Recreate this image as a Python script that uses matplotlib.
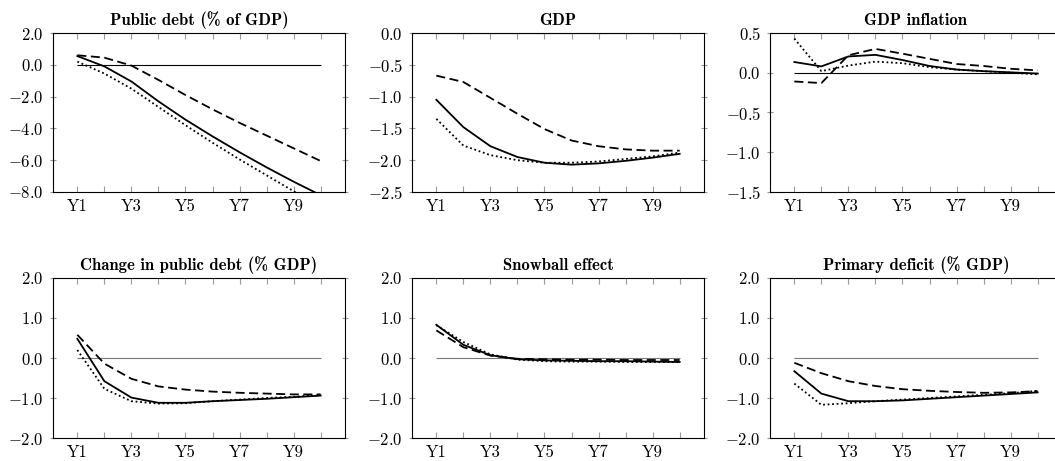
import matplotlib
matplotlib.use("Agg")
import matplotlib.pyplot as plt
import numpy as np
from matplotlib.ticker import FormatStrFormatter

plt.rcParams['font.family'] = 'cmr10'
plt.rcParams['mathtext.fontset'] = 'cm'
plt.rcParams['axes.unicode_minus'] = False

years = ["Y1", "Y2", "Y3", "Y4", "Y5", "Y6", "Y7", "Y8", "Y9", "Y10"]

titles = ["Public debt (% of GDP)", "GDP", "GDP inflation",
          "Change in public debt (% GDP)", "Snowball effect", "Primary deficit (% GDP)"]

# three scenarios per panel: solid, dashed, dotted
debt_solid = [0.55, -0.1, -1.05, -2.3, -3.45, -4.5, -5.5, -6.45, -7.35, -8.2]
debt_dashed = [0.6, 0.45, -0.05, -0.95, -1.9, -2.8, -3.65, -4.45, -5.25, -6.05]
debt_dotted = [0.2, -0.55, -1.5, -2.65, -3.8, -4.9, -5.95, -6.95, -7.95, -8.9]

gdp_solid = [-1.05, -1.48, -1.78, -1.95, -2.04, -2.07, -2.05, -2.01, -1.96, -1.9]
gdp_dashed = [-0.67, -0.77, -1.02, -1.27, -1.51, -1.69, -1.78, -1.83, -1.85, -1.85]
gdp_dotted = [-1.35, -1.77, -1.92, -2.0, -2.04, -2.04, -2.02, -1.98, -1.94, -1.88]

infl_solid = [0.135, 0.08, 0.205, 0.225, 0.16, 0.085, 0.04, 0.02, 0.005, -0.01]
infl_dashed = [-0.11, -0.13, 0.22, 0.3, 0.24, 0.175, 0.11, 0.085, 0.05, 0.03]
infl_dotted = [0.43, 0.02, 0.09, 0.14, 0.12, 0.07, 0.04, 0.02, 0.0, -0.02]

chg_solid = [0.48, -0.58, -0.99, -1.12, -1.12, -1.08, -1.05, -1.02, -0.98, -0.94]
chg_dashed = [0.58, -0.14, -0.52, -0.71, -0.79, -0.84, -0.87, -0.89, -0.91, -0.91]
chg_dotted = [0.2, -0.77, -1.08, -1.14, -1.13, -1.08, -1.04, -1.0, -0.97, -0.93]

snow_solid = [0.83, 0.33, 0.07, -0.03, -0.06, -0.07, -0.08, -0.08, -0.09, -0.1]
snow_dashed = [0.69, 0.27, 0.06, -0.02, -0.03, -0.04, -0.04, -0.05, -0.05, -0.05]
snow_dotted = [0.82, 0.4, 0.09, -0.04, -0.08, -0.09, -0.09, -0.1, -0.1, -0.1]

prim_solid = [-0.33, -0.89, -1.08, -1.08, -1.06, -1.02, -0.98, -0.94, -0.9, -0.86]
prim_dashed = [-0.12, -0.38, -0.58, -0.7, -0.78, -0.82, -0.85, -0.87, -0.86, -0.83]
prim_dotted = [-0.64, -1.17, -1.13, -1.08, -1.04, -1.0, -0.96, -0.92, -0.88, -0.82]

ylims = [(-8, 2), (-2.5, 0), (-1.5, 0.5), (-2, 2), (-2, 2), (-2, 2)]
ysteps = [2.0, 0.5, 0.5, 1.0, 1.0, 1.0]

series = [
    (debt_solid, debt_dashed, debt_dotted),
    (gdp_solid, gdp_dashed, gdp_dotted),
    (infl_solid, infl_dashed, infl_dotted),
    (chg_solid, chg_dashed, chg_dotted),
    (snow_solid, snow_dashed, snow_dotted),
    (prim_solid, prim_dashed, prim_dotted),
]

W, H = 1055, 461
fig = plt.figure(figsize=(W / 100, H / 100), dpi=100)

lefts = [53, 412, 770]
tops = [33, 278]
heights = [159, 160]
width = 292

x = np.arange(1, len(years) + 1)

for i, (title, (s, d, o)) in enumerate(zip(titles, series)):
    row, col = divmod(i, 3)
    l, t, h = lefts[col], tops[row], heights[row]
    ax = fig.add_axes([l / W, 1 - (t + h) / H, width / W, h / H])

    zc = 'black' if row == 0 else '#777777'
    ax.hlines(0, x[0], x[-1], color=zc, lw=0.8, zorder=1)
    ax.plot(x, s, color='black', lw=1.3, zorder=3)
    ax.plot(x, d, color='black', lw=1.3, ls=(0, (5, 2.5)), zorder=3)
    ax.plot(x, o, color='black', lw=1.3, ls=(0, (1, 1.5)), zorder=3)

    ax.set_xlim(0.1, 10.9)
    ax.set_ylim(*ylims[i])
    ax.set_xticks(x)
    ax.set_xticklabels([y if k % 2 == 0 else "" for k, y in enumerate(years)])
    lo, hi = ylims[i]
    ax.set_yticks(np.arange(lo, hi + 1e-9, ysteps[i]))
    ax.yaxis.set_major_formatter(FormatStrFormatter('$%.1f$'))

    ax.tick_params(axis='x', direction='in', top=True, bottom=True, length=4,
                   color='#999999', labelsize=12, pad=5)
    ax.tick_params(axis='y', direction='inout', left=True, right=True, length=5,
                   color='#999999', labelsize=12, pad=4)
    for sp in ax.spines.values():
        sp.set_linewidth(0.8)
        sp.set_color('black')

    ax.set_title(title, fontfamily='cmb10', fontsize=12, pad=6)

fig.savefig('out.png', dpi=100)
